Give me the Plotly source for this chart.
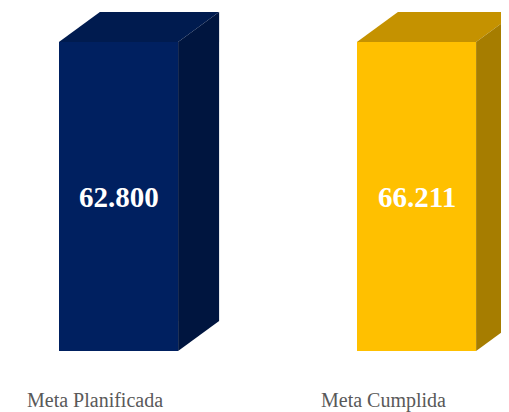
import numpy as np
import plotly.graph_objects as go

categories = ["Meta Planificada", "Meta Cumplida"]
values = [62.800, 66.211]
value_labels = ["62.800", "66.211"]
front_colors = ["#002060", "#FFC000"]
top_colors = ["#001B4F", "#C59200"]
side_colors = ["#00153F", "#A67D00"]

AXIS_MAX = 60.0          # value axis ceiling (bars are clipped to it)
BAR_W = 0.4              # front face width in category units
DEPTH_X = 0.1376         # 3D depth offset, category units
DEPTH_Y = 5.825          # 3D depth offset, value units
Y_TOP = 66.60
LABEL_XSHIFT = (-24, -33)

xs = np.arange(len(categories))
heights = np.minimum(np.array(values), AXIS_MAX)

fig = go.Figure()
fig.add_trace(go.Bar(x=xs, y=heights, width=BAR_W, marker=dict(color=front_colors, line=dict(width=0)),
                     hoverinfo="skip", showlegend=False))

for i, h in zip(xs, heights):
    x0, x1 = i - BAR_W / 2, i + BAR_W / 2
    # top face
    fig.add_trace(go.Scatter(x=[x0, x1, x1 + DEPTH_X, x0 + DEPTH_X, x0],
                             y=[h, h, h + DEPTH_Y, h + DEPTH_Y, h],
                             fill="toself", fillcolor=top_colors[i], mode="lines",
                             line=dict(width=0, color=top_colors[i]), hoverinfo="skip", showlegend=False))
    # side face
    fig.add_trace(go.Scatter(x=[x1, x1 + DEPTH_X, x1 + DEPTH_X, x1, x1],
                             y=[0, DEPTH_Y, h + DEPTH_Y, h, 0],
                             fill="toself", fillcolor=side_colors[i], mode="lines",
                             line=dict(width=0, color=side_colors[i]), hoverinfo="skip", showlegend=False))
    fig.add_annotation(x=i, y=h / 2, text="<b>%s</b>" % value_labels[i], showarrow=False,
                       xanchor="center", yanchor="middle",
                       font=dict(family="Liberation Serif", size=29, color="white"))
    fig.add_annotation(x=i, y=0, text=categories[i], showarrow=False, xanchor="center", yanchor="top",
                       xshift=LABEL_XSHIFT[i], yshift=-37, borderpad=0,
                       font=dict(family="Liberation Serif", size=20, color="#595959"))

fig.update_layout(
    width=501, height=404, autosize=False,
    margin=dict(l=0, r=0, t=0, b=61),
    paper_bgcolor="white", plot_bgcolor="white",
    xaxis=dict(range=[-0.3708, 1.3104], visible=False),
    yaxis=dict(range=[0, Y_TOP], visible=False),
    bargap=0,
)
fig.write_html("out.html")
